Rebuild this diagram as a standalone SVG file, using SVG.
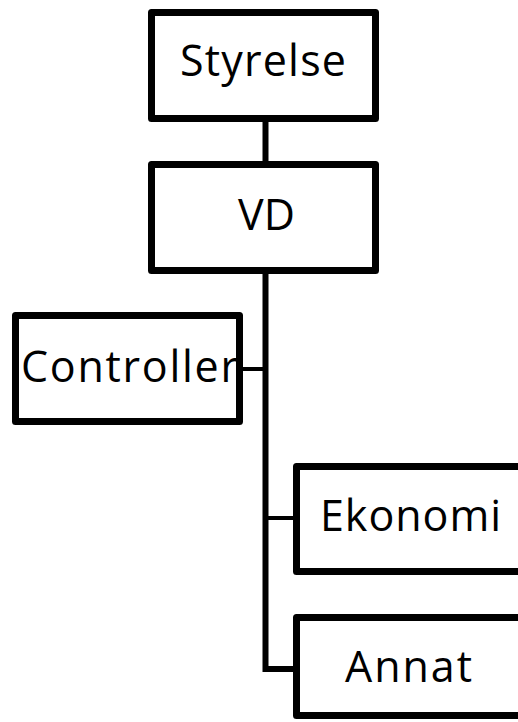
<svg xmlns="http://www.w3.org/2000/svg" width="518" height="722" viewBox="0 0 518 722">
<style>
.box{fill:#fff;stroke:#000;stroke-width:7;stroke-linejoin:round}
.t{font-family:"Open Sans","Noto Sans",sans-serif;font-size:43px;fill:#000}
.c{stroke:#000;fill:none}
</style>
<rect width="518" height="722" fill="#fff"/>
<g id="connectors">
<line class="c" x1="265.5" y1="118" x2="265.5" y2="165" stroke-width="6"/>
<line class="c" x1="265.5" y1="270" x2="265.5" y2="672" stroke-width="6"/>
<line class="c" x1="240" y1="369" x2="266" y2="369" stroke-width="4"/>
<line class="c" x1="265" y1="518" x2="297" y2="518" stroke-width="4"/>
<line class="c" x1="263" y1="669" x2="297" y2="669" stroke-width="6"/>
</g>
<g id="styrelse">
<rect class="box" x="151.5" y="12.5" width="224" height="106"/>
<text class="t" x="180" y="76" textLength="166" lengthAdjust="spacing">Styrelse</text>
</g>
<g id="vd">
<rect class="box" x="151.5" y="164.5" width="224" height="106"/>
<text class="t" x="238" y="230" textLength="57" lengthAdjust="spacing">VD</text>
</g>
<g id="controller">
<rect class="box" x="15.5" y="315.5" width="224" height="106"/>
<text class="t" x="21" y="382" textLength="217" lengthAdjust="spacing">Controller</text>
</g>
<g id="ekonomi">
<rect class="box" x="296.5" y="466.5" width="240" height="105"/>
<text class="t" x="320" y="531" textLength="181" lengthAdjust="spacing">Ekonomi</text>
</g>
<g id="annat">
<rect class="box" x="296.5" y="617.5" width="240" height="98"/>
<text class="t" x="345" y="682" textLength="127" lengthAdjust="spacing">Annat</text>
</g>
</svg>
